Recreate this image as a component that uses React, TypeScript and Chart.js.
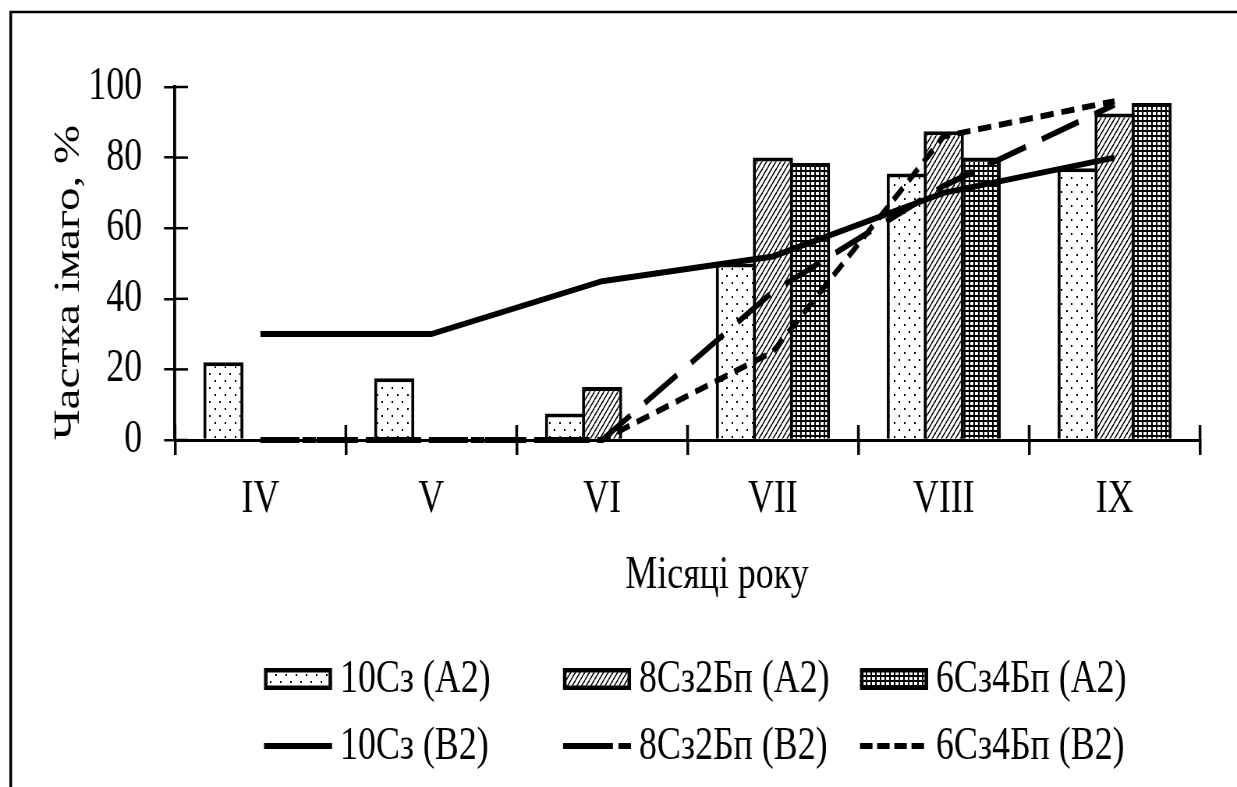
import React, { useEffect, useRef } from 'react';
import { Chart, registerables } from 'chart.js';

Chart.register(...registerables);

// ---------- data ----------
const months = ['IV', 'V', 'VI', 'VII', 'VIII', 'IX'];
const yTicks = [0, 20, 40, 60, 80, 100];
const seriesLabels = [
  '10Сз (А2)',
  '8Сз2Бп (А2)',
  '6Сз4Бп (А2)',
  '10Сз (В2)',
  '8Сз2Бп (В2)',
  '6Сз4Бп (В2)',
];
const bar10A2 = [22, 17.5, 7.5, 50, 75.5, 77];
const bar82A2 = [0, 0, 15, 80, 87.5, 92.5];
const bar64A2 = [0, 0, 0, 78.5, 80, 95.5];
const line10B2 = [30, 30, 45, 52, 70, 80];
const line82B2 = [0, 0, 0, 42, 72, 95];
const line64B2 = [0, 0, 0, 25, 86, 96];
const xTitle = 'Місяці року';
const yTitle = 'Частка імаго, %';

// ---------- geometry (the original picture is horizontally squeezed) ----------
const CSS_W = 1237;
const CSS_H = 787;
const SQUEEZE = 0.78;
const CANVAS_W = Math.round(CSS_W / SQUEEZE);
const K = CANVAS_W / CSS_W;
const px = (x: number) => x * K; // screen x -> canvas x
const FONT = "'Liberation Serif', 'Times New Roman', serif";

function makePattern(kind: 'dots' | 'hatch' | 'grid'): CanvasPattern | string {
  const c = document.createElement('canvas');
  const g = c.getContext('2d');
  if (!g) return '#fff';
  if (kind === 'dots') {
    c.width = 13; c.height = 14;
    g.fillStyle = '#fff'; g.fillRect(0, 0, 13, 14);
    g.fillStyle = '#000';
    g.fillRect(2, 2, 2, 2);
    g.fillRect(8, 9, 2, 2);
  } else if (kind === 'hatch') {
    c.width = 6; c.height = 8;
    g.fillStyle = '#fff'; g.fillRect(0, 0, 6, 8);
    g.strokeStyle = '#000'; g.lineWidth = 1.4;
    for (const off of [-6, 0, 6]) {
      g.beginPath(); g.moveTo(off, 8); g.lineTo(off + 6, 0); g.stroke();
    }
  } else {
    c.width = 6; c.height = 5;
    g.fillStyle = '#fff'; g.fillRect(0, 0, 6, 5);
    g.fillStyle = '#000';
    g.fillRect(0, 0, 2, 5);
    g.fillRect(0, 0, 6, 2);
  }
  return g.createPattern(c, 'repeat') || '#fff';
}

const legendCols = [264, 563, 860];
const legendRows = [679, 746];
const legendDash: Record<number, number[]> = { 3: [], 4: [64, 7], 5: [16, 6] };

const decor = {
  id: 'decor',
  beforeDraw(chart: any) {
    const ctx = chart.ctx;
    ctx.save();
    ctx.fillStyle = '#fff';
    ctx.fillRect(0, 0, chart.width, chart.height);
    ctx.strokeStyle = '#000';
    ctx.lineWidth = 3.5;
    ctx.beginPath(); ctx.moveTo(px(10.7), chart.height); ctx.lineTo(px(10.7), 12); ctx.stroke();
    ctx.lineWidth = 2.5;
    ctx.beginPath(); ctx.moveTo(px(9.3), 12); ctx.lineTo(chart.width, 12); ctx.stroke();
    ctx.restore();
  },
  afterDraw(chart: any) {
    const { ctx, chartArea, scales } = chart;
    const xs = scales.x;
    const ys = scales.y;
    ctx.save();
    ctx.strokeStyle = '#000';
    ctx.setLineDash([]);
    // upper halves of the category tick marks
    ctx.lineWidth = 3.5;
    const n = months.length;
    for (let i = 0; i <= n; i++) {
      const x = xs.left + (i * xs.width) / n;
      ctx.beginPath(); ctx.moveTo(x, chartArea.bottom); ctx.lineTo(x, chartArea.bottom - 15); ctx.stroke();
    }
    // inner halves of value tick marks
    ctx.lineWidth = 2.5;
    yTicks.forEach((v) => {
      const y = ys.getPixelForValue(v);
      ctx.beginPath(); ctx.moveTo(chartArea.left, y); ctx.lineTo(chartArea.left + px(13), y); ctx.stroke();
    });
    // x axis title
    ctx.fillStyle = '#000';
    ctx.font = `46px ${FONT}`;
    ctx.textAlign = 'center';
    ctx.textBaseline = 'middle';
    ctx.fillText(xTitle, px(717), 576);
    // legend (3 columns x 2 rows)
    ctx.textAlign = 'left';
    chart.data.datasets.forEach((ds: any, i: number) => {
      const col = i % 3;
      const row = Math.floor(i / 3);
      const x0 = px(legendCols[col]);
      const w = px(68);
      const yc = legendRows[row];
      if (ds.type === 'line') {
        ctx.strokeStyle = '#000';
        ctx.lineWidth = 6;
        ctx.setLineDash(legendDash[i] || []);
        ctx.beginPath(); ctx.moveTo(x0, yc); ctx.lineTo(x0 + w, yc); ctx.stroke();
        ctx.setLineDash([]);
      } else {
        const h = 22;
        const lw = 4.5;
        ctx.fillStyle = ds.backgroundColor;
        ctx.fillRect(x0, yc - h / 2, w, h);
        ctx.strokeStyle = '#000';
        ctx.lineWidth = lw;
        ctx.strokeRect(x0 + lw / 2, yc - h / 2 + lw / 2, w - lw, h - lw);
      }
      ctx.fillStyle = '#000';
      ctx.fillText(ds.label, x0 + w + px(8), yc + 1);
    });
    ctx.restore();
  },
};

export default function App() {
  const ref = useRef<HTMLCanvasElement>(null);

  useEffect(() => {
    const canvas = ref.current;
    if (!canvas) return;
    Chart.defaults.font.family = FONT;
    const dots = makePattern('dots');
    const hatch = makePattern('hatch');
    const grid = makePattern('grid');

    const barCommon = {
      type: 'bar' as const,
      borderColor: '#000',
      borderWidth: 4,
      order: 1,
      categoryPercentage: 0.65,
      barPercentage: 1.085,
    };
    const lineCommon = {
      type: 'line' as const,
      borderColor: '#000',
      backgroundColor: '#000',
      borderWidth: 6,
      pointRadius: 0,
      fill: false,
      tension: 0,
      clip: 8,
      order: 0,
    };

    const chart = new Chart(canvas, {
      type: 'bar',
      data: {
        labels: months,
        datasets: [
          { ...barCommon, label: seriesLabels[0], data: bar10A2, backgroundColor: dots },
          { ...barCommon, label: seriesLabels[1], data: bar82A2, backgroundColor: hatch },
          { ...barCommon, label: seriesLabels[2], data: bar64A2, backgroundColor: grid },
          { ...lineCommon, label: seriesLabels[3], data: line10B2 },
          { ...lineCommon, label: seriesLabels[4], data: line82B2, borderDash: [50, 22] },
          { ...lineCommon, label: seriesLabels[5], data: line64B2, borderDash: [17, 10] },
        ] as any,
      },
      options: {
        responsive: false,
        animation: false,
        events: [],
        layout: { padding: { left: 0, right: CANVAS_W - px(1200), top: 87, bottom: 0 } },
        plugins: {
          legend: { display: false },
          tooltip: { enabled: false },
        },
        scales: {
          x: {
            type: 'category',
            offset: true,
            grid: {
              display: true,
              drawOnChartArea: false,
              drawTicks: true,
              tickLength: 15,
              lineWidth: 3.5,
              color: '#000',
              offset: true,
            },
            border: { display: true, color: '#000', width: 3 },
            ticks: {
              color: '#000',
              font: { family: FONT, size: 46 },
              padding: 17,
              maxRotation: 0,
              autoSkip: false,
            },
            afterFit: (s: any) => { s.height = CSS_H - 440; },
          },
          y: {
            min: 0,
            max: 100,
            ticks: { stepSize: 20, color: '#000', font: { family: FONT, size: 46 }, padding: 28 },
            grid: { drawOnChartArea: false, drawTicks: true, tickLength: 14, lineWidth: 2.5, color: '#000' },
            border: { display: true, color: '#000', width: 3.8 },
            title: {
              display: true,
              text: yTitle,
              align: 'start',
              color: '#000',
              font: { family: FONT, size: 47 },
              padding: { top: 60, bottom: 0 },
            },
            afterFit: (s: any) => { s.width = px(175); },
          },
        },
      } as any,
      plugins: [decor],
    });
    return () => chart.destroy();
  }, []);

  return (
    <canvas
      ref={ref}
      width={CANVAS_W}
      height={CSS_H}
      style={{ position: 'absolute', left: 0, top: 0, width: `${CSS_W}px`, height: `${CSS_H}px` }}
    />
  );
}
